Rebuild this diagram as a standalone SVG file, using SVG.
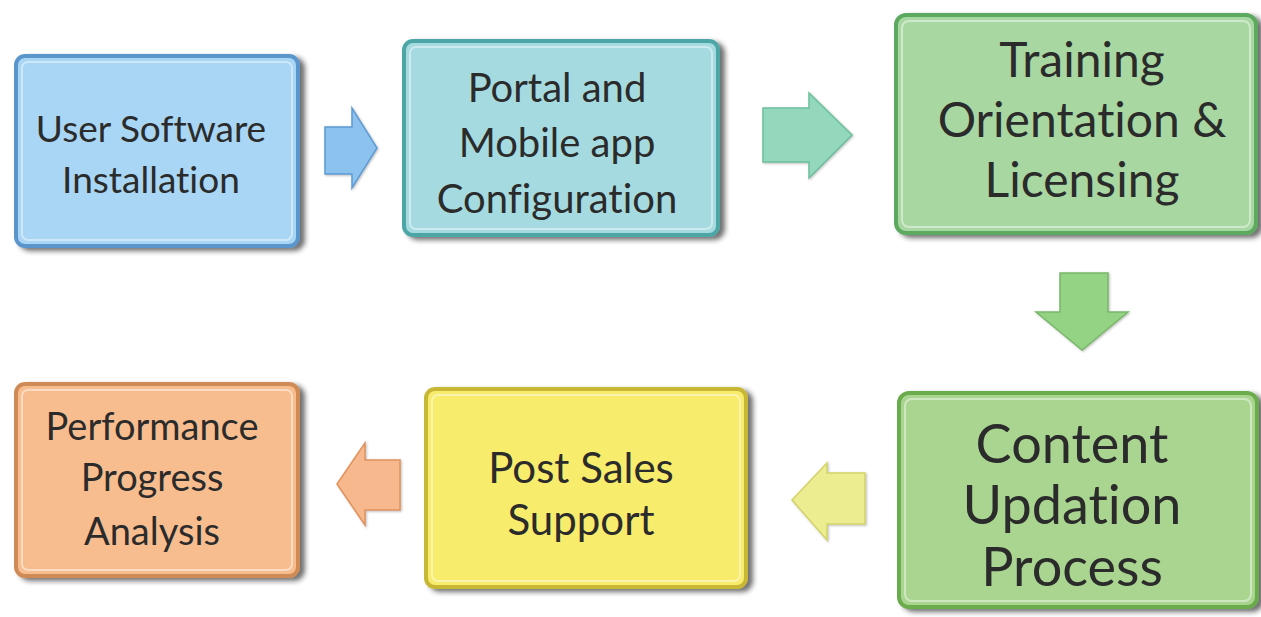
<svg xmlns="http://www.w3.org/2000/svg" width="1261" height="617" viewBox="0 0 1261 617">
  <defs>
    <filter id="sh" x="-10%" y="-10%" width="125%" height="125%">
      <feDropShadow dx="5" dy="3" stdDeviation="2.5" flood-color="#222" flood-opacity="0.65"/>
    </filter>
    <filter id="ash" x="-10%" y="-10%" width="125%" height="125%">
      <feDropShadow dx="1" dy="1" stdDeviation="1" flood-color="#444" flood-opacity="0.35"/>
    </filter>
  </defs>
  <style>
    .box { stroke-width: 4; filter: url(#sh); }
    .hl { fill: none; stroke: #ffffff; stroke-opacity: 0.45; stroke-width: 2; }
    .t { font-family: Lato, "Open Sans", "Liberation Sans", sans-serif; fill: #2b2b2b; text-anchor: middle; font-variant-ligatures: none; font-feature-settings: "liga" 0, "clig" 0; }
    .arr { stroke-width: 1.5; filter: url(#ash); }
  </style>
  <rect width="1261" height="617" fill="#ffffff"/>

  <g id="connectors">
    <polygon class="arr" points="325,127 352,127 352,108 377,148 352,188 352,174 325,174" fill="#8cc3ee" stroke="#5d9bd3"/>
    <polygon class="arr" points="763,108 809,108 809,93 852,135 809,178 809,162 763,162" fill="#93d8bd" stroke="#6dbf9c"/>
    <polygon class="arr" points="1060,273 1108,273 1108,312 1128,312 1082,350 1036,312 1060,312" fill="#93d383" stroke="#7ab86b"/>
    <polygon class="arr" points="865,473 827,473 827,463 792,500 827,540 827,524 865,524" fill="#ecec90" stroke="#d4d36a"/>
    <polygon class="arr" points="400,460 365,460 365,443 337,484 365,525 365,510 400,510" fill="#f8b88e" stroke="#e0925c"/>
  </g>

  <g id="n1">
    <rect class="box" x="16" y="56" width="282" height="190" rx="9" fill="#a8d6f4" stroke="#5a95cc"/>
    <rect class="hl" x="22" y="62" width="270" height="178" rx="6"/>
    <text class="t" x="151" y="142" font-size="37">User Software</text>
    <text class="t" x="151" y="193" font-size="37">Installation</text>
  </g>

  <g id="n2">
    <rect class="box" x="404" y="41" width="314" height="194" rx="9" fill="#a5dbe0" stroke="#4ea6a6"/>
    <rect class="hl" x="410" y="47" width="302" height="182" rx="6"/>
    <text class="t" x="557" y="102" font-size="40">Portal and</text>
    <text class="t" x="557" y="157" font-size="40">Mobile app</text>
    <text class="t" x="557" y="213" font-size="40">Configuration</text>
  </g>

  <g id="n3">
    <rect class="box" x="896" y="15" width="360" height="218" rx="10" fill="#a8d7a2" stroke="#5ca95e"/>
    <rect class="hl" x="902" y="21" width="348" height="206" rx="7"/>
    <text class="t" x="1082" y="77" font-size="48">Training</text>
    <text class="t" x="1082" y="137" font-size="48">Orientation &amp;</text>
    <text class="t" x="1082" y="197" font-size="48">Licensing</text>
  </g>

  <g id="n4">
    <rect class="box" x="899" y="393" width="358" height="214" rx="10" fill="#aad590" stroke="#6aab4c"/>
    <rect class="hl" x="905" y="399" width="346" height="202" rx="7"/>
    <text class="t" x="1072" y="463" font-size="54">Content</text>
    <text class="t" x="1072" y="524" font-size="54">Updation</text>
    <text class="t" x="1072" y="586" font-size="54">Process</text>
  </g>

  <g id="n5">
    <rect class="box" x="426" y="389" width="320" height="198" rx="9" fill="#f8ec6c" stroke="#c8b634"/>
    <rect class="hl" x="432" y="395" width="308" height="186" rx="6"/>
    <text class="t" x="581" y="483" font-size="42">Post Sales</text>
    <text class="t" x="581" y="535" font-size="42">Support</text>
  </g>

  <g id="n6">
    <rect class="box" x="16" y="384" width="282" height="192" rx="9" fill="#f8bd8f" stroke="#d08a55"/>
    <rect class="hl" x="22" y="390" width="270" height="180" rx="6"/>
    <text class="t" x="152" y="440" font-size="38">Performance</text>
    <text class="t" x="152" y="491" font-size="38">Progress</text>
    <text class="t" x="152" y="545" font-size="38">Analysis</text>
  </g>
</svg>
